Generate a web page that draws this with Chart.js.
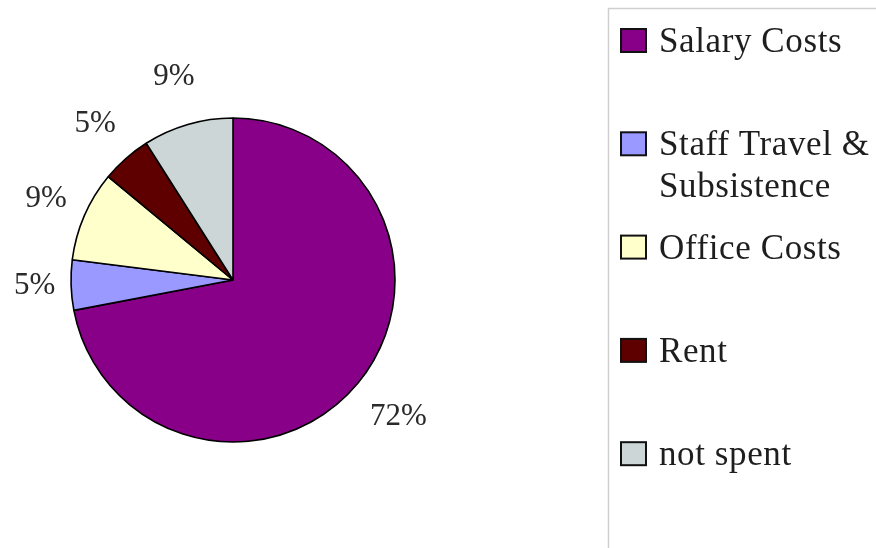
<!DOCTYPE html>
<html>
<head>
<meta charset="utf-8">
<script src="https://cdn.jsdelivr.net/npm/chart.js@4.4.0/dist/chart.umd.min.js"></script>
<style>
  html, body { margin: 0; padding: 0; background: #ffffff; }
  #wrap { width: 876px; height: 548px; }
</style>
</head>
<body>
<div id="wrap"><canvas id="c" width="876" height="548"></canvas></div>
<script>
const categories = ['Salary Costs', 'Staff Travel & Subsistence', 'Office Costs', 'Rent', 'not spent'];
const percentValues = [72, 5, 9, 5, 9];
const sliceColors = ['#880088', '#9999ff', '#ffffcc', '#5e0000', '#ccd6d6'];

const serif = '"Liberation Serif", "Times New Roman", serif';

const pieLabelsPlugin = {
  id: 'pieLabels',
  afterDatasetsDraw(chart) {
    const ctx = chart.ctx;
    const meta = chart.getDatasetMeta(0);
    const data = chart.data.datasets[0].data;
    ctx.save();
    ctx.font = '31px ' + serif;
    ctx.fillStyle = '#2a2a2a';
    ctx.textAlign = 'center';
    ctx.textBaseline = 'middle';
    meta.data.forEach((arc, i) => {
      const p = arc.getProps(['x', 'y', 'startAngle', 'endAngle', 'outerRadius'], true);
      const mid = (p.startAngle + p.endAngle) / 2;
      const ux = Math.cos(mid), uy = Math.sin(mid);
      const off = 36 + 14 * Math.abs(uy) + 10 * Math.max(ux, 0);
      const r = p.outerRadius + off;
      ctx.fillText(data[i] + '%', p.x + ux * r, p.y + uy * r);
    });
    ctx.restore();
  }
};

const boxLegendPlugin = {
  id: 'boxLegend',
  afterDraw(chart) {
    const ctx = chart.ctx;
    const ds = chart.data.datasets[0];
    const labels = chart.data.labels;
    ctx.save();
    ctx.strokeStyle = '#cfcfcf';
    ctx.lineWidth = 1.5;
    ctx.strokeRect(608.5, 8.5, 320, 600);
    ctx.font = '35px ' + serif;
    if ('letterSpacing' in ctx) ctx.letterSpacing = '0.6px';
    ctx.textBaseline = 'alphabetic';
    ctx.textAlign = 'left';
    const maxW = 228;
    labels.forEach((lab, i) => {
      const base = 52 + i * 103.3;
      ctx.fillStyle = ds.backgroundColor[i];
      ctx.fillRect(621, base - 23, 25, 23);
      ctx.strokeStyle = '#111';
      ctx.lineWidth = 2;
      ctx.strokeRect(621, base - 23, 25, 23);
      const words = lab.split(' ');
      const lines = [];
      let cur = '';
      words.forEach(w => {
        const test = cur ? cur + ' ' + w : w;
        if (ctx.measureText(test).width > maxW && cur) { lines.push(cur); cur = w; }
        else cur = test;
      });
      if (cur) lines.push(cur);
      ctx.fillStyle = '#1e1e1e';
      lines.forEach((ln, j) => ctx.fillText(ln, 659, base + j * 42));
    });
    ctx.restore();
  }
};

new Chart(document.getElementById('c'), {
  type: 'pie',
  data: {
    labels: categories,
    datasets: [{
      data: percentValues,
      backgroundColor: sliceColors,
      borderColor: '#000000',
      borderWidth: 1.6,
      radius: 162
    }]
  },
  options: {
    responsive: false,
    animation: false,
    layout: { padding: { left: 20, right: 430, top: 20, bottom: 8 } },
    plugins: {
      legend: { display: false },
      tooltip: { enabled: false }
    }
  },
  plugins: [pieLabelsPlugin, boxLegendPlugin]
});
</script>
</body>
</html>
